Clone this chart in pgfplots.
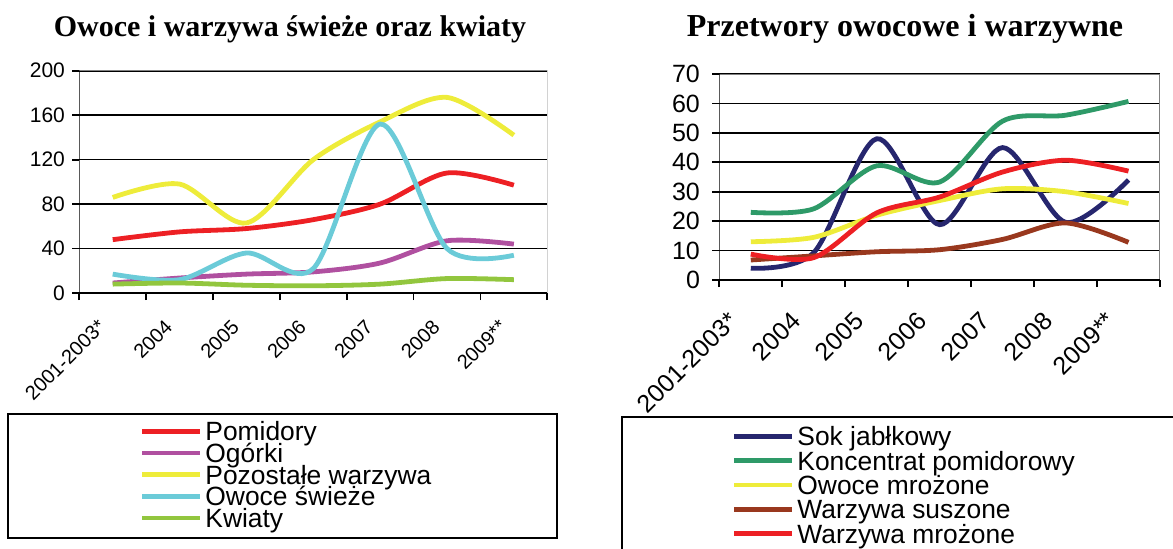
\documentclass[border=0pt]{standalone}
\usepackage{fontspec}
\setmainfont{Liberation Sans}
\newfontfamily\tserif{Liberation Serif}
\usepackage{pgfplots}
\pgfplotsset{compat=1.18}
\definecolor{cRed}{RGB}{237,32,36}
\definecolor{cPurple}{RGB}{176,80,160}
\definecolor{cYellow}{RGB}{238,236,58}
\definecolor{cCyan}{RGB}{107,203,216}
\definecolor{cGreen}{RGB}{146,198,62}
\definecolor{cNavy}{RGB}{38,38,110}
\definecolor{cDGreen}{RGB}{46,154,104}
\definecolor{cBrown}{RGB}{153,56,30}
\newcommand{\lgline}[1]{\textcolor{#1}{\rule[3.5pt]{29pt}{2.4pt}}\hspace{2.5pt}}
\pgfplotsset{
  common/.style={
    scale only axis, anchor=south west,
    xmin=0.5, xmax=7.5, ymin=0,
    axis line style={draw=none},
    tick pos=left, tick align=outside,
    major tick length=3.5pt,
    tick style={black, line width=0.9pt},
    xtick={0.5,1.5,...,7.5}, xticklabels={},
    extra x ticks={1,2,3,4,5,6,7},
    extra x tick style={major tick length=0pt},
    ymajorgrids, grid style={black, line width=0.85pt},
    /pgf/number format/assume math mode=true,
    legend cell align=left,
    legend image code/.code={},
    every axis plot/.append style={line width=2.4pt, smooth, no markers},
  }
}
\begin{document}
\begin{tikzpicture}
\path[use as bounding box] (0,0) rectangle (586.5pt,-274pt);
\node[anchor=base, font=\tserif\bfseries\fontsize{15}{15}\selectfont] at (145pt,-18pt) {Owoce i warzywa świeże oraz kwiaty};
\node[anchor=base, font=\tserif\bfseries\fontsize{16}{16}\selectfont] at (452.5pt,-18pt) {Przetwory owocowe i warzywne};

\begin{axis}[common,
  at={(39.65pt,-146.5pt)}, width=234pt, height=111.15pt,
  ymax=200, ytick={0,40,...,200},
  yticklabel style={font=\fontsize{10.5}{10.5}\selectfont, inner sep=0pt, xshift=-3.5pt},
  extra x tick labels={2001-2003*,2004,2005,2006,2007,2008,2009**},
  extra x tick style={major tick length=0pt, xticklabel style={font=\fontsize{10}{10}\selectfont, inner sep=0pt, xshift=-8pt, yshift=-12.5pt, rotate=45, anchor=north east}},
  legend style={at={(0.1340,-0.5773)}, anchor=north west, draw=none, fill=none, inner sep=0pt, row sep=0pt,
    nodes={inner sep=0pt, text height=9.45pt, text depth=1.4pt, font=\fontsize{13.2}{13.2}\selectfont}},
]
\addplot[cRed] coordinates {(1,48) (2,55) (3,58) (4,66) (5,80) (6,108) (7,97)};
\addplot[cPurple] coordinates {(1,9) (2,13.5) (3,17) (4,19) (5,27) (6,47) (7,44)};
\addplot[cYellow] coordinates {(1,86) (2,98) (3,63) (4,120) (5,154) (6,176) (7,142)};
\addplot[cCyan] coordinates {(1,17) (2,12) (3,36) (4,22) (5,152) (6,40) (7,34)};
\addplot[cGreen] coordinates {(1,8) (2,9) (3,7) (4,6.5) (5,8) (6,13) (7,12)};
\legend{\lgline{cRed}Pomidory,\lgline{cPurple}Ogórki,\lgline{cYellow}Pozostałe warzywa,\lgline{cCyan}Owoce świeże,\lgline{cGreen}Kwiaty}
\draw[gray, line width=0.7pt] (rel axis cs:0,1) -- (rel axis cs:1,1) -- (rel axis cs:1,0);
\draw[black, line width=1pt] (rel axis cs:0,1) -- (rel axis cs:0,0) -- (rel axis cs:1,0);
\end{axis}

\begin{axis}[common,
  at={(359.65pt,-140pt)}, width=220.35pt, height=103pt,
  ymax=70, ytick={0,10,...,70},
  yticklabel style={font=\fontsize{12.5}{12.5}\selectfont, inner sep=0pt, xshift=-6pt},
  extra x tick labels={2001-2003*,2004,2005,2006,2007,2008,2009**},
  extra x tick style={major tick length=0pt, xticklabel style={font=\fontsize{12.5}{12.5}\selectfont, inner sep=0pt, xshift=-12pt, yshift=-15pt, rotate=45, anchor=north east}},
  legend style={at={(0.0334,-0.7114)}, anchor=north west, draw=none, fill=none, inner sep=0pt, row sep=0pt,
    nodes={inner sep=0pt, text height=9.45pt, text depth=2.7pt, font=\fontsize{13.2}{13.2}\selectfont}},
]
\addplot[cNavy] coordinates {(1,4) (2,9.3) (3,48) (4,18.8) (5,45) (6,19.6) (7,34)};
\addplot[cDGreen] coordinates {(1,23) (2,24.2) (3,38.8) (4,33.3) (5,54) (6,56) (7,60.7)};
\addplot[cYellow] coordinates {(1,13) (2,14.5) (3,22) (4,27) (5,31) (6,30) (7,26)};
\addplot[cBrown] coordinates {(1,6.8) (2,8.2) (3,9.6) (4,10.3) (5,13.8) (6,19.4) (7,12.8)};
\addplot[cRed] coordinates {(1,8.8) (2,7.6) (3,22.8) (4,28.2) (5,36.7) (6,40.7) (7,37)};
\legend{\lgline{cNavy}Sok jabłkowy,\lgline{cDGreen}Koncentrat pomidorowy,\lgline{cYellow}Owoce mrożone,\lgline{cBrown}Warzywa suszone,\lgline{cRed}Warzywa mrożone}
\draw[gray, line width=0.7pt] (rel axis cs:0,1) -- (rel axis cs:1,1) -- (rel axis cs:1,0);
\draw[black, line width=1pt] (rel axis cs:0,1) -- (rel axis cs:0,0) -- (rel axis cs:1,0);
\end{axis}

\draw[black, line width=1pt] (4pt,-207pt) rectangle (278.5pt,-269pt);
\draw[black, line width=1pt] (311pt,-208.5pt) rectangle (600pt,-290pt);
\end{tikzpicture}
\end{document}
